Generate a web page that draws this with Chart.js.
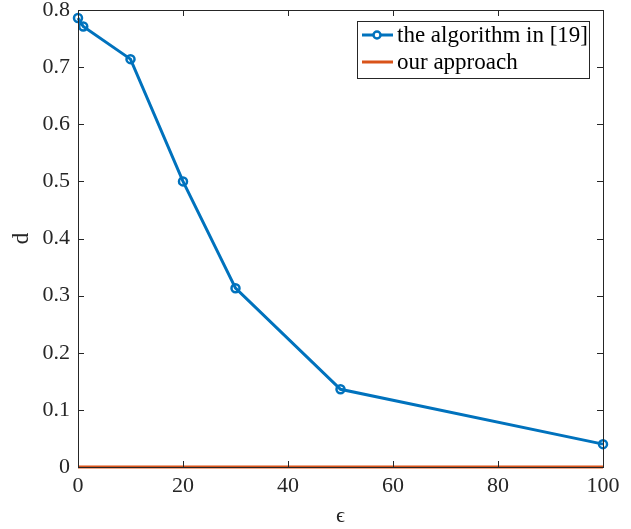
<!DOCTYPE html>
<html>
<head>
<meta charset="utf-8">
<script src="https://cdn.jsdelivr.net/npm/chart.js@4"></script>
<style>
  html, body { margin: 0; padding: 0; background: #fff; }
  #wrap { width: 631px; height: 529px; }
</style>
</head>
<body>
<div id="wrap"><canvas id="chart" width="631" height="529"></canvas></div>
<script>
// 数据
const EPS = [0, 1, 10, 20, 30, 50, 100];
const D_ALG19 = [0.786, 0.771, 0.714, 0.500, 0.313, 0.136, 0.040];
const D_OURS = [0, 0, 0, 0, 0, 0, 0];
const X_TICKS = [0, 20, 40, 60, 80, 100];
const Y_TICKS = [0, 0.1, 0.2, 0.3, 0.4, 0.5, 0.6, 0.7, 0.8];
const LABELS = ['the algorithm in [19]', 'our approach'];

const BLUE = '#0072BD';
const ORANGE = '#D95319';
const AXIS = '#262626';
const FONT = "'Liberation Serif', 'DejaVu Serif', serif";

const toXY = (xs, ys) => xs.map((x, i) => ({ x: x, y: ys[i] }));

// 边框 + 内向刻度 + 图例
const matlabAxes = {
    id: 'matlabAxes',
    afterDatasetsDraw(chart) {
        const { ctx, chartArea: a, scales } = chart;
        ctx.save();
        ctx.strokeStyle = AXIS;
        ctx.lineWidth = 1;
        ctx.strokeRect(a.left + 0.5, a.top + 0.5, a.right - a.left, a.bottom - a.top);
        const tl = 6;
        ctx.beginPath();
        X_TICKS.forEach(v => {
            const px = Math.round(scales.x.getPixelForValue(v)) + 0.5;
            ctx.moveTo(px, a.bottom); ctx.lineTo(px, a.bottom - tl);
            ctx.moveTo(px, a.top); ctx.lineTo(px, a.top + tl);
        });
        Y_TICKS.forEach(v => {
            const py = Math.round(scales.y.getPixelForValue(v)) + 0.5;
            ctx.moveTo(a.left, py); ctx.lineTo(a.left + tl, py);
            ctx.moveTo(a.right, py); ctx.lineTo(a.right - tl, py);
        });
        ctx.stroke();

        // 图例
        const lx = 357, ly = 21, lw = 232, lh = 57;
        ctx.fillStyle = '#fff';
        ctx.fillRect(lx, ly, lw, lh);
        ctx.strokeStyle = AXIS;
        ctx.strokeRect(lx + 0.5, ly + 0.5, lw, lh);
        const rows = [
            { label: LABELS[0], color: BLUE, marker: true },
            { label: LABELS[1], color: ORANGE, marker: false },
        ];
        ctx.font = '23px ' + FONT;
        ctx.textBaseline = 'middle';
        rows.forEach((r, i) => {
            const y = ly + 14 + i * 27;
            ctx.strokeStyle = r.color;
            ctx.lineWidth = 3;
            ctx.beginPath();
            ctx.moveTo(lx + 5, y); ctx.lineTo(lx + 36, y);
            ctx.stroke();
            if (r.marker) {
                ctx.beginPath();
                ctx.arc(lx + 20, y, 3.5, 0, Math.PI * 2);
                ctx.fillStyle = '#fff';
                ctx.fill();
                ctx.lineWidth = 2.5;
                ctx.stroke();
            }
            ctx.fillStyle = '#000';
            ctx.fillText(r.label, lx + 40, y + 1);
        });
        ctx.restore();
    },
};

new Chart(document.getElementById('chart'), {
    type: 'scatter',
    data: {
        datasets: [
            {
                label: LABELS[0],
                data: toXY(EPS, D_ALG19),
                showLine: true,
                borderColor: BLUE,
                borderWidth: 3,
                pointRadius: 4,
                pointBorderWidth: 2.5,
                pointBackgroundColor: 'rgba(0,0,0,0)',
                pointBorderColor: BLUE,
                order: 2,
            },
            {
                label: LABELS[1],
                data: toXY(EPS, D_OURS),
                showLine: true,
                borderColor: ORANGE,
                borderWidth: 3,
                pointRadius: 0,
                order: 1,
            },
        ],
    },
    options: {
        responsive: false,
        animation: false,
        clip: false,
        layout: { padding: { top: 10, right: 28, left: 0, bottom: 0 } },
        plugins: {
            legend: { display: false },
            tooltip: { enabled: false },
        },
        scales: {
            x: {
                type: 'linear',
                min: 0,
                max: 100,
                afterBuildTicks: s => { s.ticks = X_TICKS.map(v => ({ value: v })); },
                afterFit: s => { s.height = 62; s.paddingLeft = 0; s.paddingRight = 0; },
                grid: { display: false, drawTicks: false },
                border: { display: false },
                ticks: { color: AXIS, padding: 6, font: { family: FONT, size: 22 } },
                title: {
                    display: true,
                    text: 'ϵ',
                    color: AXIS,
                    padding: { top: 2, bottom: 0 },
                    font: { family: FONT, size: 22 },
                },
            },
            y: {
                type: 'linear',
                min: 0,
                max: 0.8,
                afterBuildTicks: s => { s.ticks = Y_TICKS.map(v => ({ value: v })); },
                afterFit: s => { s.width = 78; s.paddingTop = 0; s.paddingBottom = 0; },
                grid: { display: false, drawTicks: false },
                border: { display: false },
                ticks: {
                    color: AXIS,
                    padding: 8,
                    font: { family: FONT, size: 22 },
                    callback: v => (v === 0 ? '0' : v.toFixed(1)),
                },
                title: {
                    display: true,
                    text: 'd',
                    color: AXIS,
                    padding: { top: 8, bottom: 0 },
                    font: { family: FONT, size: 23 },
                },
            },
        },
    },
    plugins: [matlabAxes],
});
</script>
</body>
</html>
